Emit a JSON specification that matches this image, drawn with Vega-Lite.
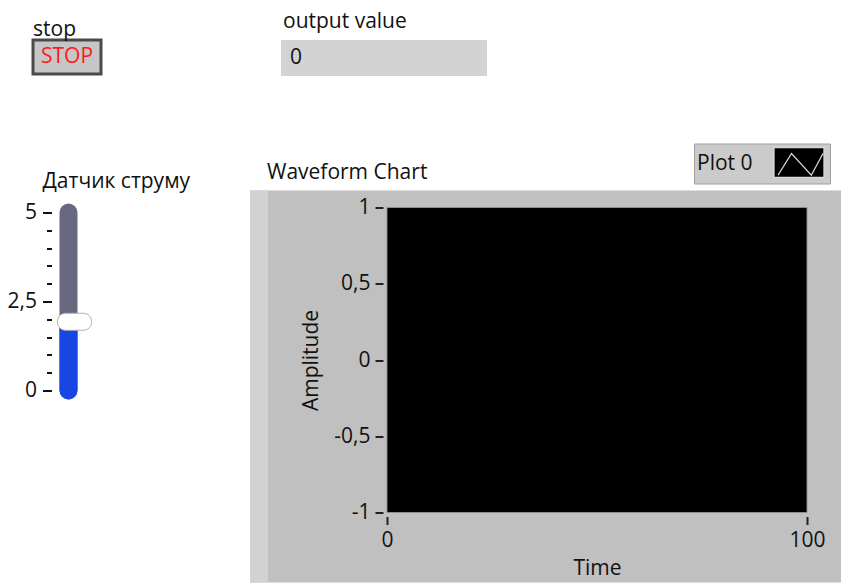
{
  "$schema": "https://vega.github.io/schema/vega-lite/v6.json",
  "padding": {"left": 7, "top": 11, "right": 0, "bottom": 0},
  "background": "white",
  "config": {
    "font": "Open Sans",
    "view": {"stroke": null},
    "title": {"fontSize": 21, "fontWeight": "normal", "color": "#111111", "anchor": "start", "frame": "group"},
    "axis": {
      "labelFontSize": 21, "titleFontSize": 21, "titleFontWeight": "normal",
      "labelColor": "#111111", "titleColor": "#111111", "tickColor": "#222222",
      "grid": false, "domain": false, "labelFont": "Open Sans", "titleFont": "Open Sans"
    }
  },
  "resolve": {"scale": {"fill": "independent"}, "legend": {"fill": "independent"}},
  "spacing": 66.5,
  "vconcat": [
    {
      "spacing": 178,
      "hconcat": [
        {
          "title": {"text": "stop", "offset": -17, "baseline": "alphabetic"},
          "width": 68, "height": 34,
          "view": {"fill": "#c6c6c6", "stroke": "#4a4a4a", "strokeWidth": 3},
          "data": {"values": [{"label": "STOP"}]},
          "mark": {"type": "text", "fontSize": 21, "color": "#ff1a1a", "font": "Open Sans"},
          "encoding": {"text": {"field": "label", "type": "nominal"}}
        },
        {
          "title": {"text": "output value", "offset": -9, "dx": 2, "baseline": "alphabetic"},
          "width": 206, "height": 36,
          "view": {"fill": "#d3d3d3"},
          "data": {"values": [{"value": 0}]},
          "mark": {"type": "text", "fontSize": 21, "align": "left", "dx": -94, "color": "#111111", "font": "Open Sans"},
          "encoding": {"text": {"field": "value", "type": "quantitative"}}
        }
      ]
    },
    {
      "spacing": 58,
      "resolve": {"scale": {"fill": "independent"}, "legend": {"fill": "independent"}},
      "hconcat": [
        {
          "title": {"text": "Датчик струму", "dx": 9.5, "offset": -7.3, "baseline": "alphabetic"},
          "width": 44.5, "height": 195,
          "data": {"values": [{"control": "Датчик струму", "min": 0, "max": 5, "value": 1.93}]},
          "layer": [
            {
              "mark": {"type": "rule", "strokeWidth": 18, "strokeCap": "round", "color": "#686880", "xOffset": -9},
              "encoding": {
                "x": {"value": "width"},
                "y": {
                  "field": "min", "type": "quantitative",
                  "scale": {"domain": [0, 5], "range": [183, 5], "nice": false, "zero": false},
                  "axis": {
                    "values": [0, 0.5, 1, 1.5, 2, 2.5, 3, 3.5, 4, 4.5, 5],
                    "offset": -18.5,
                    "tickSize": {"condition": {"test": "datum.value % 2.5 === 0", "value": 9}, "value": 5},
                    "tickWidth": 2, "tickColor": "#111111",
                    "labelExpr": "datum.value % 2.5 === 0 ? replace(datum.value + '', '.', ',') : ''",
                    "labelPadding": 6, "labelOverlap": false, "title": null, "zindex": 1
                  }
                },
                "y2": {"field": "max"}
              }
            },
            {
              "mark": {"type": "rule", "strokeWidth": 18, "strokeCap": "round", "color": "#1846e2", "xOffset": -9},
              "encoding": {
                "x": {"value": "width"},
                "y": {
                  "field": "min", "type": "quantitative",
                  "scale": {"domain": [0, 5], "range": [183, 5], "nice": false, "zero": false},
                  "axis": {
                    "values": [0, 0.5, 1, 1.5, 2, 2.5, 3, 3.5, 4, 4.5, 5],
                    "offset": -18.5,
                    "tickSize": {"condition": {"test": "datum.value % 2.5 === 0", "value": 9}, "value": 5},
                    "tickWidth": 2, "tickColor": "#111111",
                    "labelExpr": "datum.value % 2.5 === 0 ? replace(datum.value + '', '.', ',') : ''",
                    "labelPadding": 6, "labelOverlap": false, "title": null, "zindex": 1
                  }
                },
                "y2": {"field": "value"}
              }
            },
            {
              "mark": {"type": "tick", "color": "white", "thickness": 17, "size": 34, "xOffset": -3, "cornerRadius": 8, "stroke": "#b0b0b0", "strokeWidth": 1, "opacity": 1},
              "encoding": {
                "x": {"value": "width"},
                "y": {
                  "field": "value", "type": "quantitative",
                  "scale": {"domain": [0, 5], "range": [183, 5], "nice": false, "zero": false},
                  "axis": {
                    "values": [0, 0.5, 1, 1.5, 2, 2.5, 3, 3.5, 4, 4.5, 5],
                    "offset": -18.5,
                    "tickSize": {"condition": {"test": "datum.value % 2.5 === 0", "value": 9}, "value": 5},
                    "tickWidth": 2, "tickColor": "#111111",
                    "labelExpr": "datum.value % 2.5 === 0 ? replace(datum.value + '', '.', ',') : ''",
                    "labelPadding": 6, "labelOverlap": false, "title": null, "zindex": 1
                  }
                }
              }
            }
          ]
        },
        {
          "title": {"text": "Waveform Chart", "dx": -120, "offset": -57, "baseline": "alphabetic"},
          "width": 420, "height": 305,
          "data": {"values": [{"plot": "Plot 0", "x_min": 0, "x_max": 100, "y_min": -1, "y_max": 1}]},
          "layer": [
            {
              "mark": {"type": "rect", "color": "#c0c0c0", "clip": false},
              "encoding": {
                "x": {"datum": -32.62, "type": "quantitative", "scale": {"domain": [0, 100], "nice": false, "zero": false},
                  "axis": {"values": [0, 100], "title": "Time", "tickSize": 8, "tickWidth": 2, "offset": 4, "labelPadding": 5, "titlePadding": 7, "labelFlush": false, "zindex": 1}},
                "x2": {"datum": 108.1},
                "y": {"datum": 1.111, "type": "quantitative", "scale": {"domain": [-1, 1], "nice": false, "zero": false},
                  "axis": {"values": [-1, -0.5, 0, 0.5, 1], "title": "Amplitude", "tickSize": 8, "tickWidth": 2, "offset": 4, "labelPadding": 5, "titlePadding": 12, "zindex": 1, "labelExpr": "replace(datum.value + '', '.', ',')"}},
                "y2": {"datum": -1.459}
              }
            },
            {
              "mark": {"type": "rect", "color": "#d2d2d2", "clip": false},
              "encoding": {
                "x": {"datum": -32.62, "type": "quantitative", "scale": {"domain": [0, 100], "nice": false, "zero": false},
                  "axis": {"values": [0, 100], "title": "Time", "tickSize": 8, "tickWidth": 2, "offset": 4, "labelPadding": 5, "titlePadding": 7, "labelFlush": false, "zindex": 1}},
                "x2": {"datum": -28.33},
                "y": {"datum": 1.111, "type": "quantitative", "scale": {"domain": [-1, 1], "nice": false, "zero": false},
                  "axis": {"values": [-1, -0.5, 0, 0.5, 1], "title": "Amplitude", "tickSize": 8, "tickWidth": 2, "offset": 4, "labelPadding": 5, "titlePadding": 12, "zindex": 1, "labelExpr": "replace(datum.value + '', '.', ',')"}},
                "y2": {"datum": -1.459}
              }
            },
            {
              "mark": {"type": "rect", "stroke": "#8c8c8c", "strokeWidth": 1},
              "encoding": {
                "x": {"field": "x_min", "type": "quantitative", "scale": {"domain": [0, 100], "nice": false, "zero": false},
                  "axis": {"values": [0, 100], "title": "Time", "tickSize": 8, "tickWidth": 2, "offset": 4, "labelPadding": 5, "titlePadding": 7, "labelFlush": false, "zindex": 1}},
                "x2": {"field": "x_max"},
                "y": {"field": "y_min", "type": "quantitative", "scale": {"domain": [-1, 1], "nice": false, "zero": false},
                  "axis": {"values": [-1, -0.5, 0, 0.5, 1], "title": "Amplitude", "tickSize": 8, "tickWidth": 2, "offset": 4, "labelPadding": 5, "titlePadding": 12, "zindex": 1, "labelExpr": "replace(datum.value + '', '.', ',')"}},
                "y2": {"field": "y_max"},
                "fill": {
                  "field": "plot", "type": "nominal",
                  "scale": {"domain": ["Plot 0"], "range": ["black"]},
                  "legend": {
                    "orient": "none", "legendX": 307, "legendY": -64,
                    "title": "Plot 0",
                    "titleOrient": "left", "titleFontSize": 21, "titleFontWeight": "normal",
                    "titleColor": "#111111", "titlePadding": 30, "titleFont": "Open Sans",
                    "labelExpr": "''", "labelOffset": 10,
                    "symbolType": "M-1.667,-1L1.667,-1L1.667,1L-1.667,1Z M-1.4,0.85L-0.5,-0.6L0.82,0.85L1.6,-0.6L0.82,0.85L-0.5,-0.6Z",
                    "symbolSize": 900, "symbolStrokeColor": "#d8d8d8", "symbolStrokeWidth": 1.3, "symbolOpacity": 1,
                    "fillColor": "#cbcbcb", "strokeColor": "#a0a0a0", "padding": 3
                  }
                }
              }
            }
          ]
        }
      ]
    }
  ]
}
